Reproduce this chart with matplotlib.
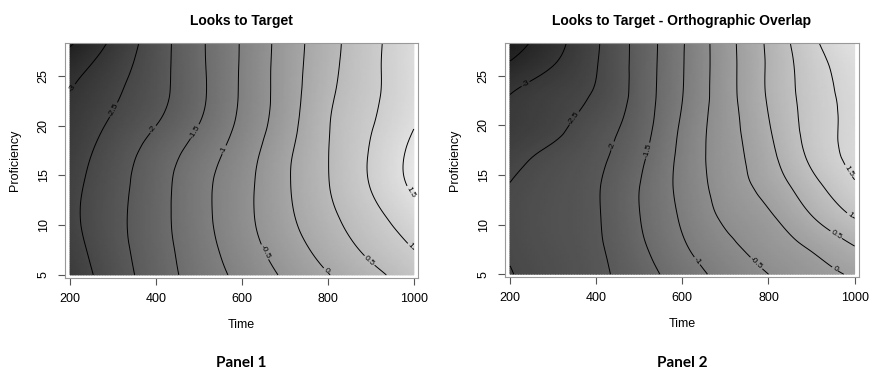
import numpy as np
import matplotlib
matplotlib.use("Agg")
import matplotlib.pyplot as plt
import matplotlib.tri as mtri
from matplotlib.colors import LinearSegmentedColormap

time = [200, 300, 400, 500, 600, 700, 800, 900, 1000]
proficiency = [5, 8, 11, 14, 17, 20, 23, 26, 29]

# Panel 1: Looks to Target (rows = proficiency, cols = time)
z_target = [
    [-2.78, -2.26, -1.75, -1.29, -0.86, -0.43, -0.02, 0.36, 0.76],
    [-2.68, -2.18, -1.70, -1.21, -0.72, -0.24, 0.22, 0.65, 1.04],
    [-2.61, -2.15, -1.68, -1.16, -0.65, -0.12, 0.39, 0.85, 1.32],
    [-2.65, -2.18, -1.70, -1.16, -0.66, -0.08, 0.48, 1.02, 1.60],
    [-2.74, -2.26, -1.78, -1.27, -0.74, -0.11, 0.49, 1.04, 1.64],
    [-2.85, -2.42, -2.00, -1.49, -0.88, -0.22, 0.47, 0.97, 1.48],
    [-2.98, -2.57, -2.15, -1.61, -0.94, -0.27, 0.41, 0.90, 1.38],
    [-3.22, -2.73, -2.20, -1.60, -0.95, -0.28, 0.35, 0.88, 1.38],
    [-3.68, -2.96, -2.25, -1.59, -0.96, -0.30, 0.32, 0.86, 1.37],
]

# Panel 2: Looks to Target - Orthographic Overlap
z_overlap = [
    [-2.52, -2.31, -2.10, -1.73, -1.25, -0.84, -0.50, -0.21, 0.07],
    [-2.45, -2.26, -2.06, -1.59, -1.05, -0.61, -0.26, 0.09, 0.53],
    [-2.44, -2.24, -2.04, -1.51, -0.93, -0.41, -0.05, 0.51, 1.06],
    [-2.49, -2.27, -2.04, -1.51, -0.86, -0.29, 0.20, 0.84, 1.45],
    [-2.68, -2.39, -2.11, -1.62, -0.87, -0.24, 0.36, 1.11, 1.64],
    [-2.88, -2.63, -2.25, -1.74, -0.93, -0.22, 0.47, 1.19, 1.63],
    [-2.99, -2.73, -2.44, -1.81, -1.01, -0.21, 0.55, 1.22, 1.68],
    [-3.42, -3.00, -2.52, -1.82, -1.03, -0.21, 0.56, 1.27, 1.78],
    [-3.84, -3.22, -2.56, -1.83, -1.05, -0.20, 0.59, 1.42, 2.05],
]

titles = ["Looks to Target", "Looks to Target - Orthographic Overlap"]
panel_names = ["Panel 1", "Panel 2"]
levels = [-3.5, -3, -2.5, -2, -1.5, -1, -0.5, 0, 0.5, 1, 1.5, 2]

# where the contour labels sit (time, proficiency)
label_spots = [
    [(212, 23.6), (301, 21.6), (394, 19.6), (495, 19.3), (557, 17.6),
     (653, 7.3), (797, 5.5), (898, 6.5), (991, 7.9), (987, 13.2)],
    [(241, 23.8), (353, 20.6), (447, 17.8), (524, 17.4), (633, 6.3),
     (776, 6.3), (954, 5.5), (950, 8.5), (989, 11.0), (985, 15.4)],
]

plt.rcParams['font.family'] = ['Liberation Sans', 'DejaVu Sans']
grays = LinearSegmentedColormap.from_list('r_gray', [(0.1, 0.1, 0.1), (0.9, 0.9, 0.9)])

fig = plt.figure(figsize=(8.72, 3.74), dpi=100)
boxes = [[0.0745, 0.257, 0.405, 0.628], [0.579, 0.259, 0.406, 0.626]]

T, P = np.meshgrid(time, proficiency)
tri = mtri.Triangulation(T.ravel(), P.ravel())
refiner = mtri.UniformTriRefiner(tri)

for k, z in enumerate([z_target, z_overlap]):
    ax = fig.add_axes(boxes[k])
    zz = np.array(z).ravel()
    tri_f, z_f = refiner.refine_field(zz, subdiv=4)
    ax.tripcolor(tri_f, z_f, shading='gouraud', cmap=grays,
                 vmin=zz.min(), vmax=zz.max())
    cs = ax.tricontour(tri_f, z_f, levels=levels, colors='black',
                       linewidths=0.7, linestyles='solid')

    ax.set_xlim(188, 1010)
    ax.set_ylim(4.7, 28.3)
    ax.clabel(cs, fmt='%g', fontsize=6, inline=True, inline_spacing=1,
              manual=label_spots[k])

    ax.set_xticks([200, 400, 600, 800, 1000])
    ax.set_yticks([5, 10, 15, 20, 25])
    ax.tick_params(direction='out', length=5, width=0.8, color='#555555',
                   labelsize=9, pad=6)
    for lab in ax.get_yticklabels():
        lab.set_rotation(90)
        lab.set_va('center')
    for sp in ax.spines.values():
        sp.set_color('#999999')
        sp.set_linewidth(0.8)
    ax.set_xlabel('Time', fontsize=9, labelpad=10)
    ax.set_ylabel('Proficiency', fontsize=9, labelpad=12)
    ax.set_title(titles[k], fontsize=10, fontweight='bold', pad=13)
    cx = boxes[k][0] + boxes[k][2] / 2
    fig.text(cx, 1 - 363 / 374, panel_names[k], ha='center', va='center',
             fontsize=11, fontweight='bold', family=['Lato', 'DejaVu Sans'])

fig.savefig('out.png', dpi=100)
